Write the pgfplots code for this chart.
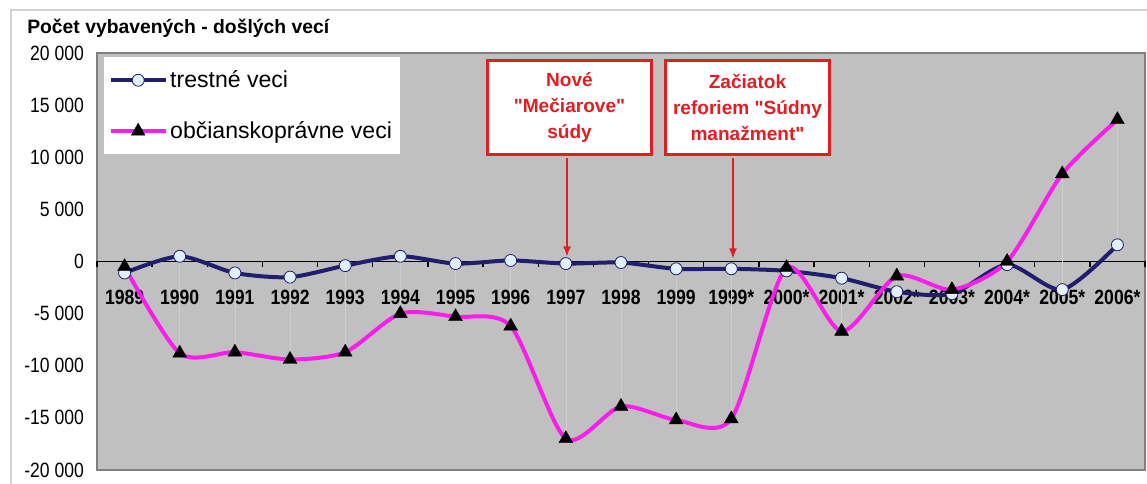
\documentclass[border=0pt]{standalone}
\usepackage{pgfplots}
\usepackage{pgfplotstable}
\pgfplotsset{compat=1.18}
\usepackage{fontspec}
\setmainfont{Liberation Sans}
\newfontfamily\cond{Liberation Sans}[FakeStretch=0.85]
\newfontfamily\boxfont{Liberation Sans}[Ligatures=TeXOff]
\usetikzlibrary{arrows.meta}
\definecolor{bggray}{RGB}{192,192,192}
\definecolor{framegray}{RGB}{128,128,128}
\definecolor{navy}{RGB}{32,30,110}
\definecolor{mag}{RGB}{250,30,235}
\definecolor{cfill}{RGB}{225,240,255}
\definecolor{boxred}{RGB}{225,30,35}
\definecolor{hlgray}{RGB}{206,206,206}
\pgfplotstableread{
x crim civ
0 -1100 -500
1 500 -8800
2 -1100 -8700
3 -1500 -9400
4 -400 -8700
5 500 -5000
6 -200 -5300
7 100 -6200
8 -200 -17000
9 -100 -13900
10 -700 -15200
11 -700 -15100
12 -900 -600
13 -1600 -6700
14 -2900 -1400
15 -3100 -2700
16 -300 0
17 -2700 8400
18 1600 13600
}\data
\begin{document}
\begin{tikzpicture}[x=0.75pt,y=0.75pt]
\useasboundingbox (-97,-14) rectangle (1050,470);
\fill[white] (-97,-14) rectangle (1050,470);
\draw[gray!35, line width=1pt] (-86,-14) -- (-86,460) -- (1050,460);
\begin{axis}[
  at={(0,0)}, anchor=south west,
  scale only axis,
  width=786pt, height=312.75pt,
  xmin=-0.5, xmax=18.5,
  ymin=-20000, ymax=20000,
  scaled y ticks=false,
  axis x line=middle,
  axis y line=left,
  axis line style={-},
  x axis line style={black, line width=1.2pt},
  y axis line style={draw=none},
  axis background/.style={fill=bggray, draw=framegray, line width=0.8pt},
  xtick={0,...,18},
  xticklabels={1989,1990,1991,1992,1993,1994,1995,1996,1997,1998,1999,1999*,2000*,2001*,2002*,2003*,2004*,2005*,2006*},
  major x tick style={draw=none},
  minor xtick={-0.5,0.5,...,18.5},
  minor x tick style={black, line width=1pt},
  minor tick length=4.5pt,
  tick align=outside,
  xticklabel style={font=\cond\bfseries\fontsize{15.5pt}{17pt}\selectfont, yshift=-16pt, inner sep=1pt},
  ytick={-20000,-15000,...,20000},
  yticklabels={-20 000,-15 000,-10 000,-5 000,0,5 000,10 000,15 000,20 000},
  ytick style={draw=none},
  yticklabel style={font=\cond\fontsize{15.5pt}{17pt}\selectfont, xshift=-2pt},
  clip=false,
  legend style={at={(0.006,0.99)}, anchor=north west, draw=none, fill=white,
    font=\fontsize{17.3pt}{20pt}\selectfont, row sep=20pt, inner xsep=4pt, inner ysep=8pt},
  legend cell align=left,
  legend image code/.code={\draw[mark repeat=2,mark phase=2] plot coordinates {(0cm,0cm)(0.72cm,0cm)(1.44cm,0cm)};},
]
% high-low lines between the two series
\addplot[draw=none, mark=none, forget plot,
  error bars/.cd, y dir=both, y explicit,
  error bar style={hlgray, line width=0.5pt}, error mark=none]
  table[x=x, y expr={(\thisrow{crim}+\thisrow{civ})/2},
        y error expr={abs(\thisrow{crim}-\thisrow{civ})/2}] {\data};
\addplot[navy, line width=3pt, smooth, tension=0.45, mark=*, mark size=4.5pt,
  mark options={fill=cfill, draw=navy, line width=0.6pt}] table[x=x,y=crim] {\data};
\addlegendentry{trestné veci}
\addplot[mag, line width=3pt, smooth, tension=0.45, mark=triangle*, mark size=6pt,
  mark options={fill=black, draw=black, line width=0.3pt}] table[x=x,y=civ] {\data};
\addlegendentry{občianskoprávne veci}
\end{axis}
\node[font=\bfseries\fontsize{14.5pt}{17pt}\selectfont, anchor=west, inner sep=0pt] at (-70,442) {Počet vybavených - došlých vecí};
\node[draw=boxred, line width=2.25pt, fill=white, text=boxred, align=center,
  font=\boxfont\bfseries\fontsize{14.3pt}{19.5pt}\selectfont,
  minimum width=123pt, minimum height=70pt, inner sep=1pt] at (472.5,362.5)
  {Nové\\"Mečiarove"\\súdy};
\node[draw=boxred, line width=2.25pt, fill=white, text=boxred, align=center,
  font=\boxfont\bfseries\fontsize{14.3pt}{19.5pt}\selectfont,
  minimum width=123pt, minimum height=70pt, inner sep=1pt] at (650.5,362.5)
  {Začiatok\\reforiem "Súdny\\manažment"};
\draw[boxred, line width=1.5pt, -{Latex[length=8pt,width=6pt]}] (470,312) -- (470,213);
\draw[boxred, line width=1.5pt, -{Latex[length=8pt,width=6pt]}] (636,312) -- (636,211);
\end{tikzpicture}
\end{document}
